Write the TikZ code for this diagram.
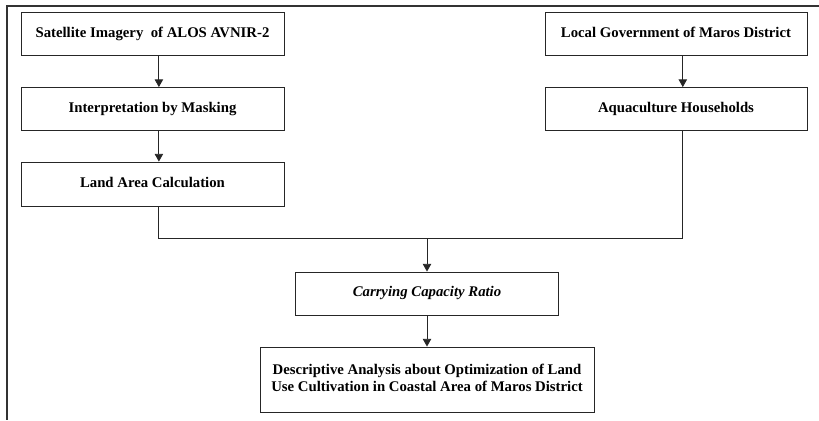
\documentclass[tikz,border=0pt]{standalone}
\usepackage{fontspec}
\setmainfont{Liberation Serif}
\usetikzlibrary{arrows.meta,positioning}

\begin{document}
\begin{tikzpicture}[node distance=1.875cm,on grid,
    box/.style={draw=black!85,line width=0.6pt,minimum width=6.575cm,minimum height=1.075cm,
      inner sep=2pt,align=center,text depth=0.25em,font=\fontsize{10.5}{12}\selectfont\bfseries},
    flow/.style={-{Triangle[length=5.5pt,width=6pt]},line width=0.6pt,black!85}]
  \useasboundingbox (-3.8125,0.85) rectangle (16.6625,-9.65);
  % frame (only top and left edges are in view)
  \draw[line width=1.3pt,black!80] (16.6625,0.7) -- (-3.6375,0.7) -- (-3.6375,-9.65);
  \path
  node[box] (sat) {Satellite Imagery\ \ of ALOS AVNIR-2}
  node[box,below=of sat] (interp) {Interpretation by Masking}
  node[box,below=of interp,minimum height=1.1cm] (land) {Land Area Calculation}
  node[box,right=13.0875cm of sat,minimum width=6.55cm] (gov) {Local Government of Maros District}
  node[box,below=of gov,minimum width=6.55cm] (aqua) {Aquaculture Households}
  node[box,below right=6.4875cm and 6.8625cm of sat] (ccr) {\itshape Carrying Capacity Ratio}
  node[box,below=2.15cm of ccr,minimum width=8.35cm,minimum height=1.625cm] (desc)
  {Descriptive Analysis about Optimization of Land\\Use Cultivation in Coastal Area of Maros District}
  ;
  \coordinate[above=0.825cm of ccr.north] (join);
  \draw[flow] ([xshift=0.16cm]sat.south) -- ([xshift=0.16cm]interp.north);
  \draw[flow] ([xshift=0.16cm]interp.south) -- ([xshift=0.16cm]land.north);
  \draw[flow] ([xshift=0.17cm]gov.south) -- ([xshift=0.17cm]aqua.north);
  \draw[line width=0.6pt,black!85] ([xshift=0.16cm]land.south) |- (join) -| ([xshift=0.17cm]aqua.south);
  \draw[flow] (join) -- (ccr);
  \draw[flow] (ccr) -- (desc);
\end{tikzpicture}
\end{document}
